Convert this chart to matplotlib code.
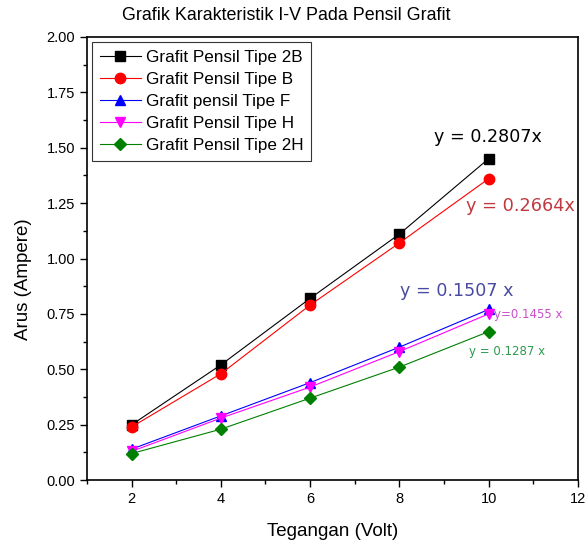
import matplotlib.pyplot as plt
from matplotlib.ticker import MultipleLocator

plt.rcParams['font.family'] = ['Liberation Sans', 'DejaVu Sans']

# Data (Tegangan in Volt, Arus in Ampere)
tegangan = [2, 4, 6, 8, 10]
arus_2b = [0.25, 0.52, 0.82, 1.11, 1.45]
arus_b = [0.24, 0.48, 0.79, 1.07, 1.36]
arus_f = [0.14, 0.29, 0.44, 0.60, 0.77]
arus_h = [0.13, 0.28, 0.42, 0.58, 0.75]
arus_2h = [0.12, 0.23, 0.37, 0.51, 0.67]

fig = plt.figure(figsize=(5.86, 5.5), dpi=100)
ax = fig.add_axes([0.1485, 0.127, 0.8375, 0.806])

ax.plot(tegangan, arus_2b, '-s', color='black', lw=0.8, ms=6.5, label='Grafit Pensil Tipe 2B')
ax.plot(tegangan, arus_b, '-o', color='red', mec='red', lw=0.8, ms=7.5, label='Grafit Pensil Tipe B')
ax.plot(tegangan, arus_f, '-^', color='blue', lw=0.8, ms=7.5, label='Grafit pensil Tipe F')
ax.plot(tegangan, arus_h, '-v', color='magenta', lw=0.8, ms=7.5, label='Grafit Pensil Tipe H')
ax.plot(tegangan, arus_2h, '-D', color='green', lw=0.8, ms=6.5, label='Grafit Pensil Tipe 2H')

# persamaan regresi
eq = dict(ha='center', va='center', family='DejaVu Sans')
ax.text(9.98, 1.55, 'y = 0.2807x', color='black', fontsize=12.6, **eq)
ax.text(10.72, 1.237, 'y = 0.2664x', color='#c0393f', fontsize=12.8, **eq)
ax.text(9.29, 0.853, 'y = 0.1507 x', color='#4a4aa0', fontsize=12.6, **eq)
ax.text(10.9, 0.747, 'y=0.1455 x', color='#c84fc8', fontsize=8.5, **eq)
ax.text(10.41, 0.58, 'y = 0.1287 x', color='#2e9a4e', fontsize=8.5, **eq)

ax.set_xlim(1, 12)
ax.set_ylim(0, 2.0)
ax.xaxis.set_major_locator(MultipleLocator(2))
ax.xaxis.set_minor_locator(MultipleLocator(1))
ax.yaxis.set_major_locator(MultipleLocator(0.25))
ax.yaxis.set_minor_locator(MultipleLocator(0.125))
ax.set_xticks(range(2, 13, 2))
ax.set_yticklabels([f'{v:.2f}' for v in ax.get_yticks()])
ax.tick_params(which='major', direction='out', length=5, width=1, labelsize=10.5)
ax.tick_params(which='minor', direction='out', length=3, width=1)
for s in ax.spines.values():
    s.set_linewidth(1.2)

ax.set_xlabel('Tegangan (Volt)', fontsize=13.5, labelpad=12)
ax.set_ylabel('Arus (Ampere)', fontsize=13.5)
ax.yaxis.set_label_coords(-0.112, 0.454)
fig.text(0.488, 0.972, 'Grafik Karakteristik I-V Pada Pensil Grafit', fontsize=12.9,
         ha='center', va='center')

leg = ax.legend(loc='upper left', fontsize=12.3, frameon=True, fancybox=False,
                edgecolor='black', handlelength=2.4, borderpad=0.45,
                labelspacing=0.42, handletextpad=0.3, borderaxespad=0.3)
leg.get_frame().set_linewidth(0.8)

plt.savefig('out.png', dpi=100)
plt.close()
